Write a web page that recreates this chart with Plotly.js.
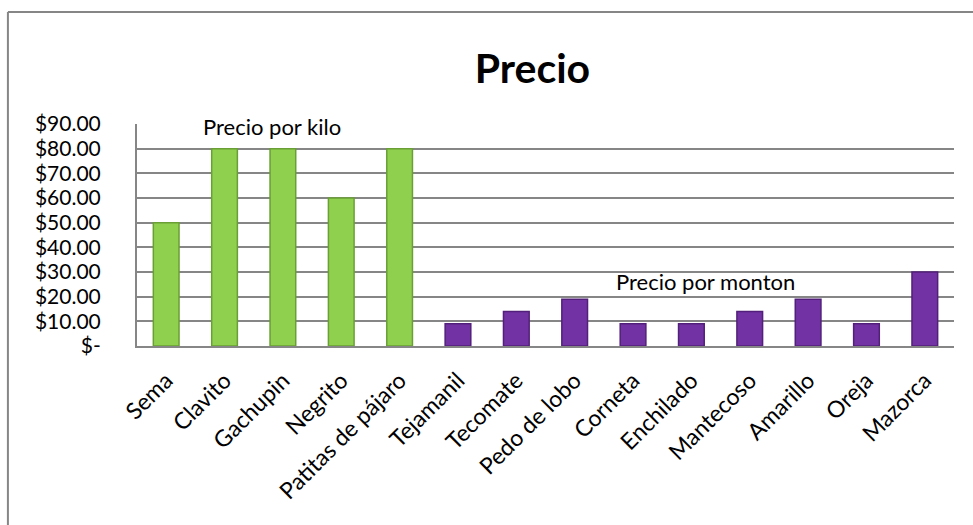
<!DOCTYPE html>
<html>
<head>
<meta charset="utf-8">
<script src="https://cdn.plot.ly/plotly-3.0.1.min.js"></script>
<style>
  html, body { margin: 0; padding: 0; background: #ffffff; }
  #chart { width: 973px; height: 525px; }
</style>
</head>
<body>
<div id="chart"></div>
<script>
// ---- data ----
const kiloCategories = ["Sema", "Clavito", "Gachupin", "Negrito", "Patitas de pájaro"];
const kiloPrices = [50, 80, 80, 60, 80];
const montonCategories = ["Tejamanil", "Tecomate", "Pedo de lobo", "Corneta", "Enchilado", "Mantecoso", "Amarillo", "Oreja", "Mazorca"];
const montonPrices = [9, 14, 19, 9, 9, 14, 19, 9, 30];
const yTickValues = [0, 10, 20, 30, 40, 50, 60, 70, 80, 90];
const yTickLabels = ["$-", "$10.00", "$20.00", "$30.00", "$40.00", "$50.00", "$60.00", "$70.00", "$80.00", "$90.00"];
const chartTitle = "Precio";
const kiloLabel = "Precio por kilo";
const montonLabel = "Precio por monton";

const allCategories = kiloCategories.concat(montonCategories);
const FONT = "Lato, 'Open Sans', sans-serif";
const GRID = "#868686";

const traces = [
  {
    type: "bar",
    name: kiloLabel,
    x: kiloCategories,
    y: kiloPrices,
    marker: { color: "#8fd14f", line: { color: "#6a9f35", width: 1.5 } },
    hoverinfo: "x+y"
  },
  {
    type: "bar",
    name: montonLabel,
    x: montonCategories,
    y: montonPrices,
    marker: { color: "#7232a4", line: { color: "#52207a", width: 1.5 } },
    hoverinfo: "x+y"
  }
];

const layout = {
  width: 973,
  height: 525,
  paper_bgcolor: "#ffffff",
  plot_bgcolor: "#ffffff",
  showlegend: false,
  barmode: "overlay",
  bargap: 0.56,
  margin: { l: 137, r: 19, t: 124, b: 179, pad: 0 },
  font: { family: FONT, color: "#000000", size: 20 },
  title: {
    text: "<b>" + chartTitle + "</b>",
    font: { family: FONT, size: 41, color: "#000000" },
    x: 0.484, xref: "paper", xanchor: "center",
    y: 0.87, yref: "container", yanchor: "middle"
  },
  xaxis: {
    type: "category",
    categoryorder: "array",
    categoryarray: allCategories,
    tickangle: -45,
    ticks: "",
    showgrid: false,
    showline: true,
    linecolor: GRID,
    linewidth: 2,
    tickfont: { family: FONT, size: 23, color: "#000000" },
    ticklabelstandoff: 10,
    fixedrange: true
  },
  yaxis: {
    range: [0, 90],
    tickvals: yTickValues,
    ticktext: yTickLabels,
    showgrid: true,
    gridcolor: GRID,
    gridwidth: 2,
    showline: true,
    linecolor: GRID,
    linewidth: 2,
    zeroline: false,
    ticks: "",
    ticklabelstandoff: 30,
    tickfont: { family: FONT, size: 21, color: "#000000" },
    fixedrange: true
  },
  annotations: [
    {
      text: kiloLabel, x: 1.81, y: 89, xref: "x", yref: "y",
      showarrow: false, xanchor: "center", yanchor: "middle",
      font: { family: FONT, size: 22, color: "#000000" }
    },
    {
      text: montonLabel, x: 9.24, y: 26.1, xref: "x", yref: "y",
      showarrow: false, xanchor: "center", yanchor: "middle",
      font: { family: FONT, size: 22, color: "#000000" }
    }
  ],
  shapes: [
    { type: "line", xref: "paper", yref: "paper", x0: -0.158, x1: -0.158, y0: -0.9, y1: 1.5045, line: { color: GRID, width: 2 } },
    { type: "line", xref: "paper", yref: "paper", x0: -0.158, x1: 1.03, y0: 1.5045, y1: 1.5045, line: { color: GRID, width: 2 } }
  ]
};

Plotly.newPlot("chart", traces, layout, { staticPlot: true, displayModeBar: false });
</script>
</body>
</html>
